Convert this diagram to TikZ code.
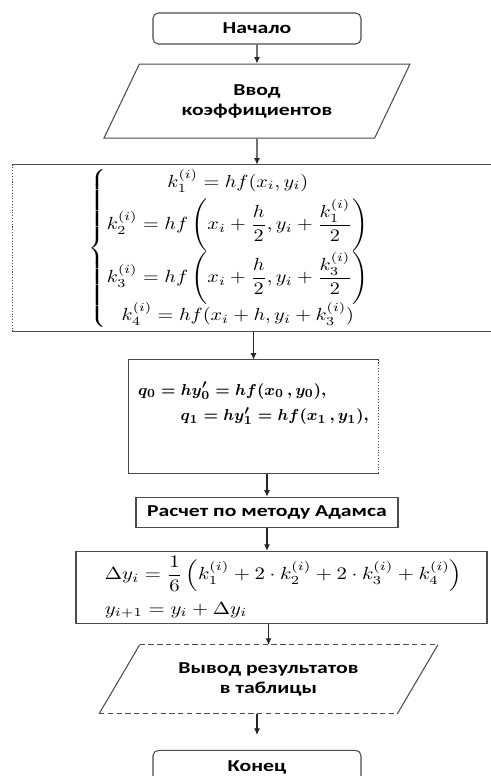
\documentclass[tikz,border=0pt]{standalone}
\usepackage{amsmath}
\usepackage{graphicx}
\usepackage{fontspec}
\newfontfamily\lblfont{Carlito}[FakeStretch=1.3]
\usetikzlibrary{shapes.geometric,arrows.meta,positioning}
\tikzset{
  box/.style={rectangle, draw=black!70, line width=0.6pt, minimum height=0.62cm,
              minimum width=4.16cm, align=center, inner sep=0pt,
              font=\lblfont\bfseries\fontsize{9.5}{11.4}\selectfont},
  term/.style={box, rounded corners=3pt},
  io/.style={trapezium, draw=black!70, line width=0.6pt, trapezium stretches body,
             align=center, inner sep=0pt,
             font=\lblfont\bfseries\fontsize{9.5}{11.4}\selectfont},
  mtext/.style={font=\fontsize{10}{12}\selectfont, inner sep=0pt, align=left},
  rim/.style={draw=black!70, line width=0.6pt},
  arr/.style={-{Latex[length=1.3mm,width=1.2mm]}, line width=0.6pt, black!85}
}

\begin{document}
\begin{tikzpicture}
  \useasboundingbox (0,0) rectangle (9.82,-15.52);
  \node[term] (start) at (5.14,-0.57) {Начало};
  \node[io, below=0.38cm of start, minimum width=6.12cm, minimum height=1.48cm,
        trapezium left angle=43.5, trapezium right angle=136.5] (input) {Ввод\\коэффициентов};
  \node[box, draw=none, below=0.52cm of input, minimum width=9.76cm, minimum height=3.32cm] (rk) {};
  \node[mtext, xshift=-0.54cm] (rkeq) at (rk.center) {\scalebox{1.15}[1]{$\left\{\begin{array}{@{}c@{}}
      k_1^{(i)} = hf(x_i,y_i)\\[3pt]
      k_2^{(i)} = hf\left(x_i+\dfrac{h}{2}, y_i+\dfrac{k_1^{(i)}}{2}\right)\\[3pt]
      k_3^{(i)} = hf\left(x_i+\dfrac{h}{2}, y_i+\dfrac{k_3^{(i)}}{2}\right)\\[-1pt]
      k_4^{(i)} = hf(x_i+h,y_i+k_3^{(i)})
    \end{array}\right.$}};
  \node[box, draw=none, below=0.56cm of rk, xshift=-0.07cm, minimum width=4.98cm,
        minimum height=2.26cm, align=left, font=\fontsize{9.5}{11.4}\selectfont\boldmath] (q)
    {$q_0 = hy'_0 = hf(x_0\,,y_0),$\\[3pt]\hspace*{0.85cm}$q_1 = hy'_1 = hf(x_1\,,y_1),$\\[6pt]};
  \node[box, below=0.46cm of q, xshift=0.27cm, minimum width=5.24cm, minimum height=0.6cm] (adams)
    {Расчет по методу Адамса};
  \node[box, below=0.46cm of adams, xshift=0.29cm, minimum width=8.22cm, minimum height=1.44cm] (delta) {};
  \node[mtext, anchor=west, xshift=0.58cm] (dtext) at (delta.west)
    {\scalebox{1.18}[1]{$\Delta y_i = \dfrac{1}{6}\left(k_1^{(i)} + 2\cdot k_2^{(i)} + 2\cdot k_3^{(i)} + k_4^{(i)}\right)$}\\[5pt]
     \scalebox{1.18}[1]{$y_{i+1} = y_i + \Delta y_i$}};
  \node[io, draw=none, below=0.42cm of delta, xshift=-0.26cm, minimum width=6.74cm, minimum height=1.36cm,
        trapezium left angle=40, trapezium right angle=140] (out) {Вывод результатов\\в таблицы};
  \node[term, below=0.72cm of out, xshift=-0.23cm, minimum height=0.7cm] (end) {Конец};

  % borders drawn side by side
  \draw[rim] (rk.north west) -- (rk.north east) -- (rk.south east) -- (rk.south west);
  \draw[rim, densely dotted] (rk.north west) -- (rk.south west);
  \draw[rim] (q.north east) -- (q.north west) -- (q.south west) -- (q.south east);
  \draw[rim, densely dotted] (q.north east) -- (q.south east);
  \draw[rim] (out.top left corner) -- (out.bottom left corner)
             (out.top right corner) -- (out.bottom right corner);
  \draw[rim, densely dashed] (out.top left corner) -- (out.top right corner)
             (out.bottom left corner) -- (out.bottom right corner);

  \draw[arr] (start) -- (input);
  \draw[arr] (input) -- (rk);
  \draw[arr] (q.north |- rk.south) -- (q.north);
  \draw[arr] (q.south -| adams.north) -- (adams.north);
  \draw[arr] (adams) -- (adams |- delta.north);
  \draw[arr] (out.north |- delta.south) -- (out.north);
  \draw[arr, shorten >=0.3cm] (out.south -| end.north) -- (end.north);
\end{tikzpicture}
\end{document}
